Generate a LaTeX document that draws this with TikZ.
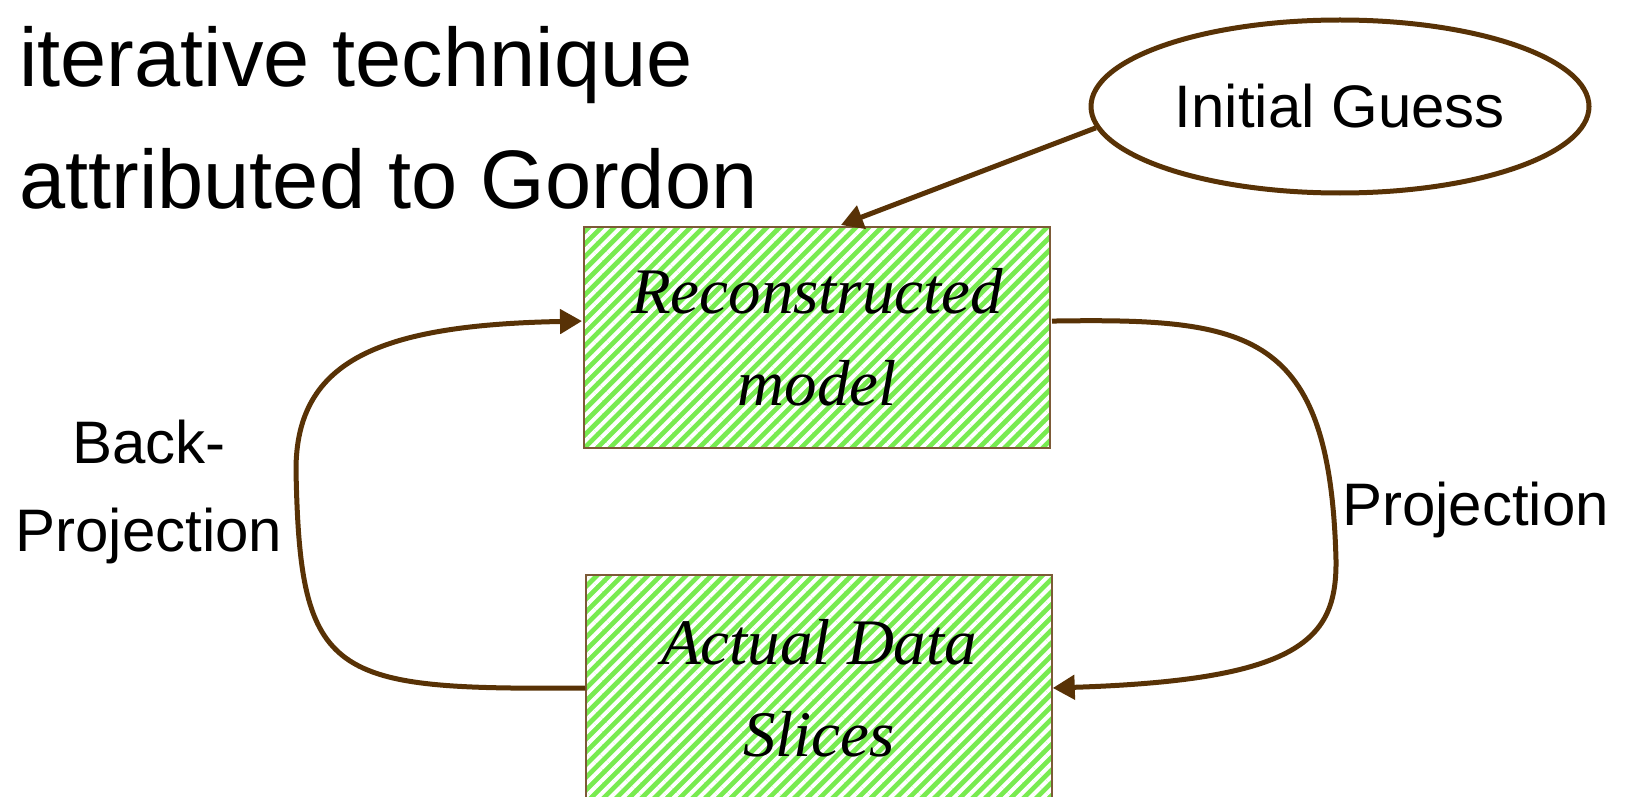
\documentclass[tikz,border=0pt]{standalone}
\usepackage{fontspec}
\setmainfont{Liberation Sans}
\newfontfamily\timesfont{Liberation Serif}
\usetikzlibrary{shapes.geometric,arrows.meta,patterns.meta}
\definecolor{arrowbrown}{RGB}{88,50,6}
\definecolor{edgebrown}{RGB}{125,90,55}
\definecolor{hatchgreen}{RGB}{120,235,80}

\begin{document}
\begin{tikzpicture}[x=1pt,y=-1pt,
  box/.style={draw=edgebrown, line width=1.5pt, minimum width=466pt, inner sep=0pt,
    preaction={fill=hatchgreen},
    pattern={Lines[angle=45,distance=9pt,line width=4pt]}, pattern color=white,
    align=center, font=\timesfont\itshape\fontsize{65}{92}\selectfont},
  flowtext/.style={align=center, inner sep=0pt, font=\fontsize{60}{88}\selectfont},
  flow/.style={draw=arrowbrown, line width=5pt, -{Triangle[length=22pt,width=24pt]}}]
\useasboundingbox (0,0) rectangle (1631,797);
% title (base anchor sits on the last line)
\node [anchor=base west, align=left, inner sep=0pt, font=\fontsize{83}{122}\selectfont]
  (title) at (19,208) {iterative technique\\attributed to Gordon};
% start value
\node [ellipse, draw=arrowbrown, line width=5pt, minimum width=498pt, minimum height=173pt,
  inner sep=0pt, font=\fontsize{60}{88}\selectfont] (guess) at (1340,106.5) {Initial Guess};
% boxes
\node [box, minimum height=221pt] (recon)  at (817,337.5) {Reconstructed\\model};
\node [box, minimum height=226pt] (slices) at (819,688)   {Actual Data\\Slices};
% labels
\node [flowtext] (back) at (149,492) {Back-\\Projection};
\node [flowtext, anchor=base west] (proj) at (1342,525) {Projection};
% arrows
\draw [flow] (guess.185) -- (recon.78);
\draw [flow] (recon.4) .. controls (1250,318) and (1330,330) .. (1336,560)
                       .. controls (1337,640) and (1300,680) .. (slices.east);
\draw [flow] (slices.west) .. controls (330,690) and (300,680) .. (296,470)
                           .. controls (296,360) and (380,325) .. (recon.176);
\end{tikzpicture}
\end{document}
